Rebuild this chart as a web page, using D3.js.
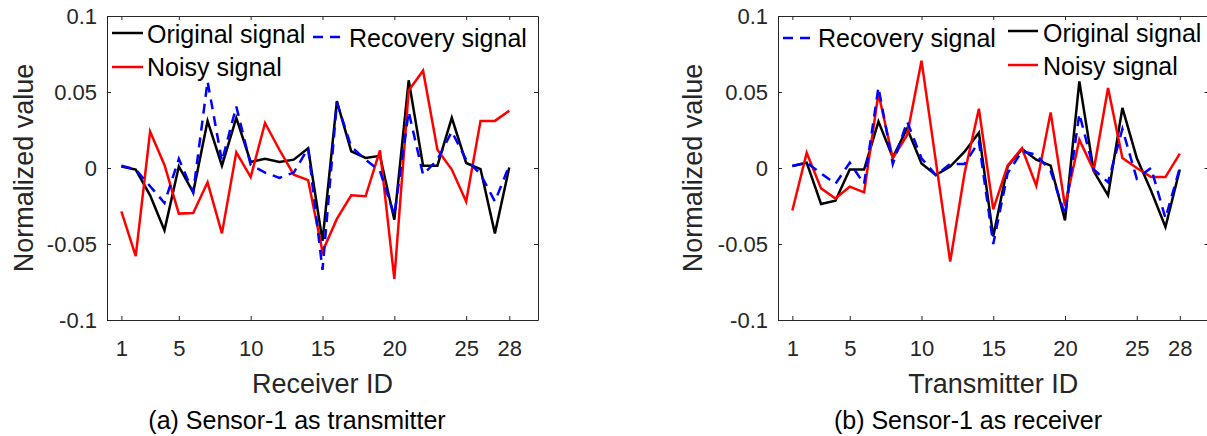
<!DOCTYPE html>
<html>
<head>
<meta charset="utf-8">
<script src="https://cdn.jsdelivr.net/npm/d3@7"></script>
<style>
  body { margin: 0; background: #fff; }
  svg { display: block; font-family: "Liberation Sans", Arial, sans-serif; }
  .axis path, .axis line { stroke: #262626; }
  .axis text { fill: #262626; font-size: 22px; }
</style>
</head>
<body>
<svg id="chart" width="1207" height="436"></svg>
<script>
// receiver / transmitter IDs
var ids = d3.range(1, 29);
var xTicks = [1, 5, 10, 15, 20, 25, 28];
var yTicks = [-0.1, -0.05, 0, 0.05, 0.1];
var yTickLabels = ['-0.1', '-0.05', '0', '0.05', '0.1'];

// (a) Sensor-1 as transmitter
var originalA = [0.001, -0.001, -0.018, -0.041, 0.001, -0.016, 0.031, 0.0015, 0.033, 0.004,
    0.006, 0.004, 0.0055, 0.013, -0.048, 0.044, 0.011, 0.0066, 0.008, -0.034,
    0.0577, 0.0015, 0.0015, 0.033, 0.0033, -0.0007, -0.043, 0.0004];
var recoveryA = [0.0015, -0.001, -0.012, -0.023, 0.006, -0.016, 0.057, 0.0045, 0.0405, 0.002,
    -0.003, -0.0065, -0.003, 0.013, -0.067, 0.043, 0.014, 0.0055, -0.002, -0.031,
    0.037, -0.0044, 0.0055, 0.024, 0.0055, -0.004, -0.022, 0.0015];
var noisyA = [-0.0285, -0.058, 0.024, 0.002, -0.030, -0.0296, -0.0094, -0.043, 0.0103, -0.006,
    0.0296, 0.012, -0.0044, -0.008, -0.055, -0.0335, -0.018, -0.0186, 0.0116, -0.073,
    0.051, 0.064, 0.012, -0.001, -0.022, 0.031, 0.031, 0.0377];

// (b) Sensor-1 as receiver
var originalB = [0.0013, 0.0035, -0.0237, -0.0215, -0.001, -0.001, 0.0305, 0.007, 0.026, 0.003,
    -0.0046, 0.0009, 0.0107, 0.0232, -0.045, 0.001, 0.0125, 0.0055, 0.0015, -0.0345,
    0.057, -0.002, -0.018, 0.0395, 0.0066, -0.015, -0.0388, -0.001];
var recoveryB = [0.0013, 0.0035, -0.0035, -0.0105, 0.0035, -0.0105, 0.053, 0.0026, 0.0305, 0.0064,
    -0.0046, 0.0026, 0.0026, 0.0173, -0.05, -0.0035, 0.011, 0.0088, -0.002, -0.0307,
    0.0357, -0.001, -0.0094, 0.0257, -0.007, 0.0, -0.033, 0.0];
var noisyB = [-0.028, 0.010, -0.0134, -0.020, -0.0123, -0.016, 0.049, 0.0064, 0.0217, 0.0706,
    0.0045, -0.0616, -0.0035, 0.039, -0.0272, 0.0015, 0.013, -0.0116, 0.0366, -0.025,
    0.0186, -0.0015, 0.0526, 0.0066, 0.0, -0.006, -0.006, 0.0094];

var svg = d3.select('#chart');
var dash = '10,7';
var lw = 2.5;

function drawPanel(p) {
    var x = d3.scaleLinear().domain([0, 30]).range([p.left, p.right]);
    var y = d3.scaleLinear().domain([-0.1, 0.1]).range([320, 16]);

    var g = svg.append('g');

    // box with inward ticks on all four sides
    g.append('g').attr('class', 'axis')
        .attr('transform', 'translate(0,320)')
        .call(d3.axisBottom(x).tickValues(xTicks).tickSizeInner(-4).tickSizeOuter(0).tickPadding(20));
    g.append('g').attr('class', 'axis')
        .attr('transform', 'translate(0,16)')
        .call(d3.axisTop(x).tickValues(xTicks).tickSizeInner(-4).tickSizeOuter(0).tickFormat(''));
    g.append('g').attr('class', 'axis')
        .attr('transform', 'translate(' + p.left + ',0)')
        .call(d3.axisLeft(y).tickValues(yTicks).tickSizeInner(-4).tickSizeOuter(0).tickPadding(10)
            .tickFormat(function(d, i) { return yTickLabels[i]; }));
    g.append('g').attr('class', 'axis')
        .attr('transform', 'translate(' + p.right + ',0)')
        .call(d3.axisRight(y).tickValues(yTicks).tickSizeInner(-4).tickSizeOuter(0).tickFormat(''));
    g.selectAll('.axis text').style('font-family', 'Liberation Sans, Arial, sans-serif');

    var line = d3.line()
        .x(function(d, i) { return x(ids[i]); })
        .y(function(d) { return y(d); });

    var series = [
        {values: p.original, color: '#000000', dash: null},
        {values: p.noisy, color: '#ff0000', dash: null},
        {values: p.recovery, color: '#0000ff', dash: dash}
    ];
    g.selectAll('.series')
        .data(series)
        .enter().append('path')
        .attr('class', 'series')
        .attr('d', function(d) { return line(d.values); })
        .attr('fill', 'none')
        .attr('stroke', function(d) { return d.color; })
        .attr('stroke-width', lw)
        .attr('stroke-linejoin', 'miter')
        .attr('stroke-dasharray', function(d) { return d.dash; });

    // legend entries
    p.legend.forEach(function(e) {
        g.append('line')
            .attr('x1', e.x).attr('x2', e.x + e.len)
            .attr('y1', e.ly).attr('y2', e.ly)
            .attr('stroke', e.color).attr('stroke-width', lw)
            .attr('stroke-dasharray', e.dash);
        g.append('text')
            .attr('x', e.tx).attr('y', e.ty)
            .attr('font-size', 25)
            .attr('fill', '#000')
            .text(e.label);
    });

    // axis labels and caption
    g.append('text')
        .attr('x', (p.left + p.right) / 2).attr('y', 393)
        .attr('text-anchor', 'middle')
        .attr('font-size', 27).attr('fill', '#262626')
        .text(p.xLabel);
    g.append('text')
        .attr('transform', 'translate(' + p.yLabelX + ',168) rotate(-90)')
        .attr('text-anchor', 'middle')
        .attr('font-size', 27).attr('fill', '#262626')
        .text('Normalized value');
    g.append('text')
        .attr('x', p.captionX).attr('y', 429)
        .attr('text-anchor', 'middle')
        .attr('font-size', 25).attr('fill', '#000')
        .text(p.caption);
}

drawPanel({
    left: 107, right: 538,
    original: originalA, recovery: recoveryA, noisy: noisyA,
    xLabel: 'Receiver ID', yLabelX: 33, captionX: 297,
    caption: '(a) Sensor-1 as transmitter',
    legend: [
        {label: 'Original signal', color: '#000', dash: null, x: 112, len: 31, ly: 33, tx: 147, ty: 43},
        {label: 'Recovery signal', color: '#00f', dash: dash, x: 313, len: 27, ly: 37, tx: 349, ty: 47},
        {label: 'Noisy signal', color: '#f00', dash: null, x: 112, len: 31, ly: 67, tx: 147, ty: 76}
    ]
});

drawPanel({
    left: 778, right: 1208.5,
    original: originalB, recovery: recoveryB, noisy: noisyB,
    xLabel: 'Transmitter ID', yLabelX: 702, captionX: 968,
    caption: '(b) Sensor-1 as receiver',
    legend: [
        {label: 'Recovery signal', color: '#00f', dash: dash, x: 783, len: 27, ly: 38, tx: 818, ty: 47},
        {label: 'Original signal', color: '#000', dash: null, x: 1008, len: 30, ly: 31, tx: 1043, ty: 42},
        {label: 'Noisy signal', color: '#f00', dash: null, x: 1008, len: 30, ly: 65, tx: 1043, ty: 75}
    ]
});
</script>
</body>
</html>
